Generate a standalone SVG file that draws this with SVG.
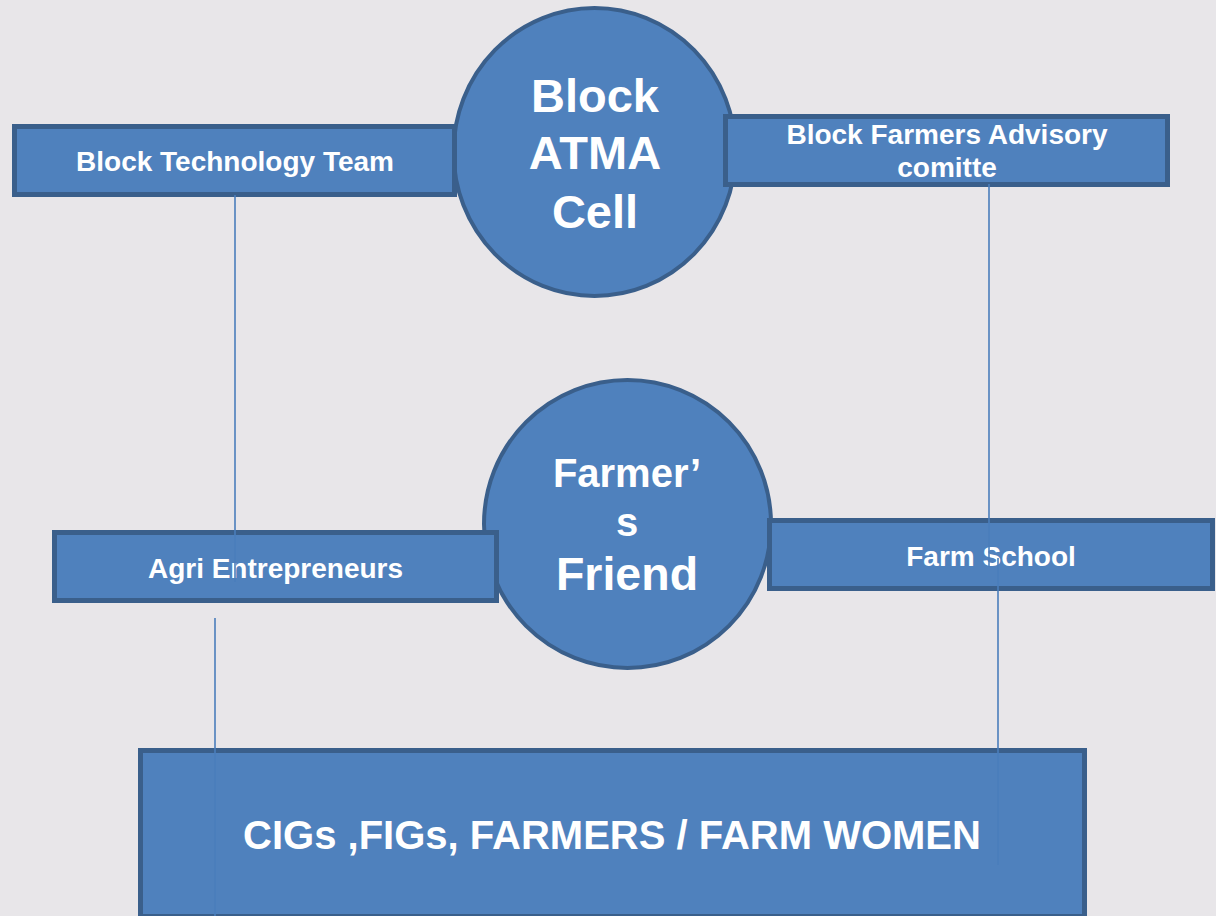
<svg xmlns="http://www.w3.org/2000/svg" width="1216" height="916" viewBox="0 0 1216 916">
<style>
.shape{fill:#4F81BD;stroke:#3A5F8B;}
.box{stroke-width:5;}
.circ{stroke-width:4;}
text{font-family:"Liberation Sans",Arial,sans-serif;font-weight:bold;fill:#FFFFFF;text-anchor:middle;}
.lbl{font-size:28px;}
.conn line{stroke:#4A7EBB;stroke-width:1.6;}
</style>
<rect width="1216" height="916" fill="#E8E6E9"/>
<g id="atma-cell">
<ellipse class="shape circ" cx="594.5" cy="152" rx="141" ry="144"/>
<text x="595" y="112" font-size="47">Block</text>
<text x="595" y="169" font-size="47">ATMA</text>
<text x="595" y="228" font-size="47">Cell</text>
</g>
<g id="farmers-friend">
<ellipse class="shape circ" cx="627.5" cy="524" rx="143.5" ry="144"/>
<text x="627" y="487" font-size="40">Farmer’</text>
<text x="627" y="536" font-size="40">s</text>
<text x="627" y="590" font-size="46.5">Friend</text>
</g>
<g id="block-technology-team">
<rect class="shape box" x="14.5" y="126.5" width="440" height="68"/>
<text class="lbl" x="235" y="171">Block Technology Team</text>
</g>
<g id="block-farmers-advisory">
<rect class="shape box" x="725.5" y="116.5" width="442" height="68"/>
<text class="lbl" x="947" y="144">Block Farmers Advisory</text>
<text class="lbl" x="947" y="177">comitte</text>
</g>
<g id="agri-entrepreneurs">
<rect class="shape box" x="54.5" y="532.5" width="442" height="68"/>
<text class="lbl" x="275.5" y="578">Agri Entrepreneurs</text>
</g>
<g id="farm-school">
<rect class="shape box" x="769.5" y="520.5" width="443" height="68"/>
<text class="lbl" x="991" y="566">Farm School</text>
</g>
<g id="cigs-figs">
<rect class="shape box" x="140.5" y="750.5" width="944" height="166"/>
<text x="612" y="849" font-size="40">CIGs ,FIGs, FARMERS / FARM WOMEN</text>
</g>
<g id="connectors" class="conn">
<line x1="235" y1="195" x2="235" y2="582"/>
<line x1="215" y1="618" x2="215" y2="916"/>
<line x1="989" y1="184" x2="989" y2="567"/>
<line x1="998" y1="558" x2="998" y2="865"/>
</g>
</svg>
